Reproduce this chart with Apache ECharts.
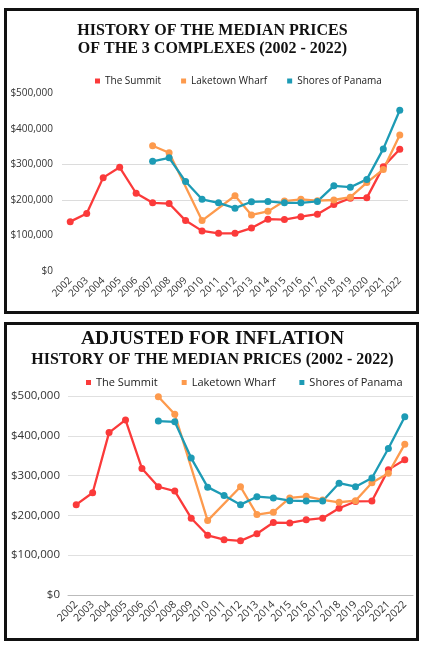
<!DOCTYPE html>
<html><head><meta charset="utf-8">
<script src="https://cdn.jsdelivr.net/npm/echarts@6/dist/echarts.min.js"></script>
<style>html,body{margin:0;padding:0;background:#fff}#c{width:425px;height:650px}</style>
</head><body><div id="c"></div>
<script>
const years = ['2002','2003','2004','2005','2006','2007','2008','2009','2010','2011','2012','2013','2014','2015','2016','2017','2018','2019','2020','2021','2022'];
const seriesNames = ['The Summit','Laketown Wharf','Shores of Panama'];
const yTicks = [0,100000,200000,300000,400000,500000];
// Chart 1: nominal median prices
const summitNominal = [139000,162000,263000,292000,219000,192000,190000,142000,113000,106000,106000,121000,146000,145000,153000,160000,187000,205000,206000,294000,343000];
const laketownNominal = [null,null,null,null,null,353000,333000,null,142000,null,212000,158000,168000,197000,202000,198000,200000,208000,249000,286000,383000];
const shoresNominal = [null,null,null,null,null,309000,319000,252000,202000,192000,177000,195000,196000,192000,192000,196000,240000,236000,258000,344000,453000];
// Chart 2: adjusted for inflation
const summitAdjusted = [227000,257000,408000,440000,318000,272000,261000,193000,150000,139000,136000,154000,182000,181000,189000,193000,218000,235000,236000,315000,340000];
const laketownAdjusted = [null,null,null,null,null,498000,454000,null,187000,null,272000,202000,208000,244000,248000,239000,233000,237000,282000,306000,379000];
const shoresAdjusted = [null,null,null,null,null,437000,435000,344000,271000,250000,227000,247000,244000,237000,236000,236000,281000,272000,294000,368000,448000];

const colors = ['#fb3a3a','#fd9a4d','#1d9bb5'];
const sans = '"Open Sans", "Noto Sans", sans-serif';
const serif = '"Liberation Serif", "DejaVu Serif", serif';
const fmt = v => '$' + v.toLocaleString('en-US');

const chart = echarts.init(document.getElementById('c'), null, {renderer:'canvas'});

function mkSeries(name, data, idx, color){
  return {name, type:'line', data, xAxisIndex:idx, yAxisIndex:idx, connectNulls:true,
    symbol:'circle', symbolSize:7, color,
    lineStyle:{width:2.3, color}, itemStyle:{color}, animation:false};
}

chart.setOption({
  animation:false,
  color: colors,
  title:[
    {text:'HISTORY OF THE MEDIAN PRICES', left:'center', top:18, textStyle:{fontFamily:serif, fontWeight:'bold', fontSize:16, color:'#111'}},
    {text:'OF THE 3 COMPLEXES (2002 - 2022)', left:'center', top:36, textStyle:{fontFamily:serif, fontWeight:'bold', fontSize:16, color:'#111'}},
    {text:'ADJUSTED FOR INFLATION', left:'center', top:324, textStyle:{fontFamily:serif, fontWeight:'bold', fontSize:19.5, color:'#111'}},
    {text:'HISTORY OF THE MEDIAN PRICES (2002 - 2022)', left:'center', top:347, textStyle:{fontFamily:serif, fontWeight:'bold', fontSize:16, color:'#111'}}
  ],
  legend:[
    {data:seriesNames, left:90, top:71, icon:'rect', itemWidth:5, itemHeight:5, itemGap:20,
      textStyle:{fontFamily:sans, fontSize:10, color:'#222'}},
    {data:seriesNames, left:81, top:372, icon:'rect', itemWidth:5, itemHeight:5, itemGap:24,
      textStyle:{fontFamily:sans, fontSize:11, color:'#222'}}
  ],
  grid:[
    {left:62, right:17, top:93.5, height:177.5},
    {left:68, right:12, top:396, height:199}
  ],
  xAxis:[
    {gridIndex:0, type:'category', data:years, boundaryGap:true,
      axisLine:{show:false}, axisTick:{show:false},
      axisLabel:{rotate:45, fontFamily:sans, fontSize:10, color:'#333', margin:8, interval:0}},
    {gridIndex:1, type:'category', data:years, boundaryGap:true,
      axisLine:{show:true, lineStyle:{color:'#bbb', width:1}}, axisTick:{show:false},
      axisLabel:{rotate:45, fontFamily:sans, fontSize:10.5, color:'#333', margin:8, interval:0}}
  ],
  yAxis:[
    {gridIndex:0, type:'value', min:yTicks[0], max:yTicks[yTicks.length-1], interval:100000,
      axisLine:{show:false}, axisTick:{show:false},
      axisLabel:{formatter:fmt, fontFamily:sans, fontSize:10, color:'#333', margin:9},
      splitLine:{show:true, lineStyle:{color:['rgba(0,0,0,0)','rgba(0,0,0,0)','#dcdcdc','#dcdcdc','rgba(0,0,0,0)','rgba(0,0,0,0)'], width:1}}},
    {gridIndex:1, type:'value', min:yTicks[0], max:yTicks[yTicks.length-1], interval:100000,
      axisLine:{show:false}, axisTick:{show:false},
      axisLabel:{formatter:fmt, fontFamily:sans, fontSize:11.5, color:'#333', margin:8},
      splitLine:{show:true, lineStyle:{color:'#e0e0e0', width:1}}}
  ],
  graphic:[
    {type:'rect', shape:{x:5.5, y:9.5, width:412, height:303}, style:{fill:'none', stroke:'#111', lineWidth:3}, z:100},
    {type:'rect', shape:{x:5.5, y:323.5, width:412, height:316}, style:{fill:'none', stroke:'#111', lineWidth:3}, z:100}
  ],
  series:[
    mkSeries(seriesNames[0], summitNominal, 0, colors[0]),
    mkSeries(seriesNames[1], laketownNominal, 0, colors[1]),
    mkSeries(seriesNames[2], shoresNominal, 0, colors[2]),
    mkSeries(seriesNames[0], summitAdjusted, 1, colors[0]),
    mkSeries(seriesNames[1], laketownAdjusted, 1, colors[1]),
    mkSeries(seriesNames[2], shoresAdjusted, 1, colors[2])
  ]
});
</script></body></html>
